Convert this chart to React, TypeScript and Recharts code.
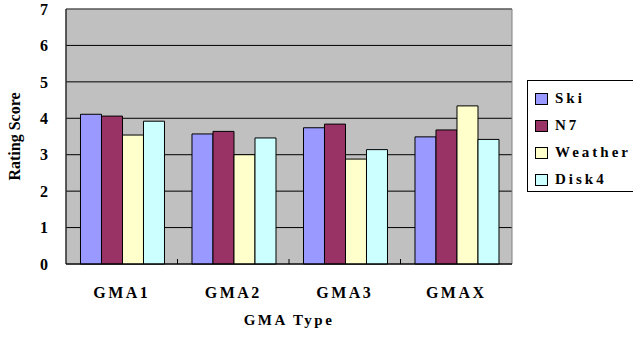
import {
  BarChart,
  Bar,
  XAxis,
  YAxis,
  CartesianGrid,
  ReferenceArea,
} from 'recharts';

const categories = ['GMA1', 'GMA2', 'GMA3', 'GMAX'];
const ski = [4.11, 3.57, 3.74, 3.49];
const n7 = [4.06, 3.64, 3.84, 3.68];
const weather = [3.54, 3.0, 2.88, 4.34];
const disk4 = [3.92, 3.46, 3.14, 3.42];
const yTicks = [0, 1, 2, 3, 4, 5, 6, 7];

const series = [
  { key: 'ski', name: 'Ski', color: '#9999FF' },
  { key: 'n7', name: 'N7', color: '#993366' },
  { key: 'weather', name: 'Weather', color: '#FFFFCC' },
  { key: 'disk4', name: 'Disk4', color: '#CCFFFF' },
];

const data = categories.map((c, i) => ({
  name: c,
  ski: ski[i],
  n7: n7[i],
  weather: weather[i],
  disk4: disk4[i],
}));

const FONT = '"Liberation Serif", "Times New Roman", serif';

// category label plus the small inward tick between categories
const XTick = (props: any) => {
  const { x, y, payload, index, width } = props;
  const half = width / categories.length / 2;
  const last = index === categories.length - 1;
  return (
    <g>
      {!last && (
        <line x1={x + half} x2={x + half} y1={y} y2={y - 5} stroke="#000" />
      )}
      <text
        x={x}
        y={y + 34}
        textAnchor="middle"
        fontFamily={FONT}
        fontWeight="bold"
        fontSize={16}
        letterSpacing={2.5}
        fill="#000"
      >
        {payload.value}
      </text>
    </g>
  );
};

const LegendBox = () => (
  <div
    style={{
      position: 'absolute',
      left: 527,
      top: 80,
      border: '1px solid #000',
      background: '#fff',
      width: 120,
      height: 112,
      boxSizing: 'border-box',
      paddingTop: 4,
      paddingLeft: 7,
      fontFamily: FONT,
      fontWeight: 'bold',
      fontSize: 15,
      letterSpacing: 3,
    }}
  >
    {series.map((s) => (
      <div
        key={s.key}
        style={{ display: 'flex', alignItems: 'center', height: 27 }}
      >
        <span
          style={{
            display: 'inline-block',
            width: 11,
            height: 10,
            background: s.color,
            border: '1px solid #000',
            marginRight: 7,
          }}
        />
        {s.name}
      </div>
    ))}
  </div>
);

function App() {
  return (
    <div
      style={{
        position: 'fixed',
        left: 0,
        top: 0,
        width: 633,
        height: 337,
        overflow: 'hidden',
        background: '#fff',
      }}
    >
      <BarChart
        width={633}
        height={337}
        data={data}
        margin={{ top: 9, right: 121, bottom: 0, left: 0 }}
        barCategoryGap="13%"
        barGap={0}
      >
        <CartesianGrid
          vertical={false}
          stroke="#000"
          fill="#C0C0C0"
          fillOpacity={1}
        />
        <ReferenceArea y1={0} y2={7} fill="none" stroke="#808080" ifOverflow="visible" />
        <XAxis
          dataKey="name"
          height={73}
          tickLine={false}
          tickSize={0}
          tickMargin={0}
          axisLine={{ stroke: '#000' }}
          tick={<XTick />}
          interval={0}
          label={{
            value: 'GMA Type',
            position: 'insideBottom',
            offset: 12,
            style: {
              fontFamily: FONT,
              fontWeight: 'bold',
              fontSize: 15,
              letterSpacing: 2.5,
              fill: '#000',
            },
          }}
        />
        <YAxis
          width={66}
          domain={[0, 7]}
          ticks={yTicks}
          interval={0}
          tickLine={false}
          tickSize={0}
          axisLine={{ stroke: '#000' }}
          tick={{
            fontFamily: FONT,
            fontWeight: 'bold',
            fontSize: 16,
            fill: '#000',
          }}
          tickMargin={18}
          label={{
            value: 'Rating Score',
            angle: -90,
            position: 'insideLeft',
            offset: 14,
            style: {
              textAnchor: 'middle',
              fontFamily: FONT,
              fontWeight: 'bold',
              fontSize: 16,
              fill: '#000',
            },
          }}
        />
        {series.map((s) => (
          <Bar
            key={s.key}
            dataKey={s.key}
            name={s.name}
            fill={s.color}
            stroke="#000"
            strokeWidth={1}
            isAnimationActive={false}
          />
        ))}
      </BarChart>
      <LegendBox />
    </div>
  );
}

export default App;
